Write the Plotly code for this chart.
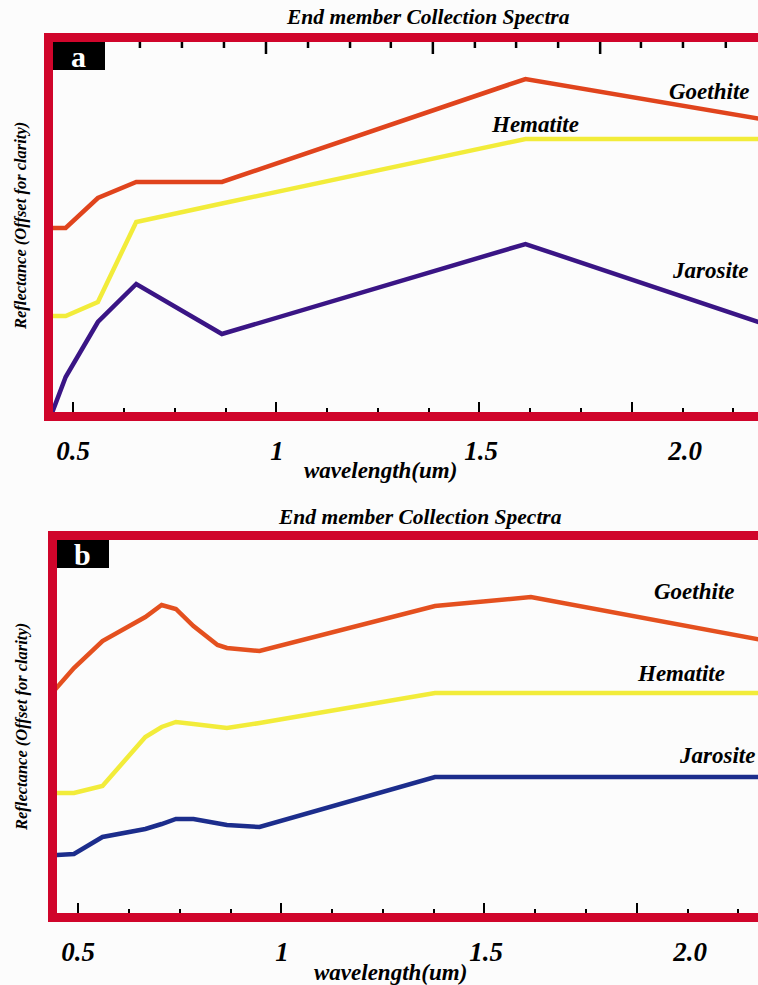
import plotly.graph_objects as go

# ---------------- data ----------------
# Panel a: Landsat-8 OLI band centres (um)
WL_A = [0.443, 0.482, 0.561, 0.655, 0.865, 1.609, 2.201]
GOETHITE_A = [1.84, 1.84, 2.14, 2.30, 2.30, 3.33, 2.92]
HEMATITE_A = [0.96, 0.96, 1.10, 1.90, 2.085, 2.73, 2.73]
JAROSITE_A = [-0.07, 0.35, 0.90, 1.28, 0.78, 1.68, 0.87]

# Panel b: Sentinel-2 MSI band centres (um)
WL_B = [0.443, 0.490, 0.560, 0.665, 0.705, 0.740, 0.783, 0.842, 0.865, 0.945, 1.375, 1.610, 2.190]
GOETHITE_B = [2.23, 2.45, 2.72, 2.96, 3.08, 3.04, 2.87, 2.68, 2.65, 2.62, 3.07, 3.16, 2.72]
HEMATITE_B = [1.20, 1.20, 1.27, 1.76, 1.86, 1.91, 1.89, 1.86, 1.85, 1.90, 2.20, 2.20, 2.20]
JAROSITE_B = [0.58, 0.59, 0.76, 0.84, 0.89, 0.94, 0.94, 0.89, 0.88, 0.86, 1.36, 1.36, 1.36]

TICK_LABEL_VALS = [0.5, 1.0, 1.5, 2.0]
TICK_LABEL_TEXT = ["0.5", "1", "1.5", "2.0"]
BOTTOM_MAJOR = [0.5, 0.998, 1.496, 1.869]
BOTTOM_MINOR = [0.625, 0.749, 0.874, 1.123, 1.247, 1.372, 1.621, 1.745, 1.994, 2.118]
TOP_MAJOR_A = [0.973, 1.382, 1.792]
TOP_MINOR_A = [0.664, 0.767, 0.870, 1.076, 1.179, 1.279, 1.485, 1.586, 1.689, 1.892, 1.995, 2.100]

TITLE = "End member Collection Spectra"
XTITLE = "wavelength(um)"
YTITLE = "Reflectance (Offset for clarity)"

# ---------------- styling ----------------
W, H = 758, 985
FRAME = "#D0052B"
BG = "#FCFCFC"
SERIF = "Liberation Serif"
C_GOE_A, C_HEM, C_JAR_A = "#E0441D", "#F2EC3A", "#3A1585"
C_GOE_B, C_JAR_B = "#E4501F", "#1C2D8C"
LW = 4.5

YR_A = [0, 3.70]
YR_B = [0, 3.73]


def px_x(p):
    return p / W


def px_y(p):
    return 1 - p / H


fig = go.Figure()

fig.add_trace(go.Scatter(x=WL_A, y=GOETHITE_A, mode="lines", line=dict(color=C_GOE_A, width=LW), xaxis="x", yaxis="y", name="Goethite"))
fig.add_trace(go.Scatter(x=WL_A, y=HEMATITE_A, mode="lines", line=dict(color=C_HEM, width=LW), xaxis="x", yaxis="y", name="Hematite"))
fig.add_trace(go.Scatter(x=WL_A, y=JAROSITE_A, mode="lines", line=dict(color=C_JAR_A, width=LW), xaxis="x", yaxis="y", name="Jarosite"))

fig.add_trace(go.Scatter(x=WL_B, y=GOETHITE_B, mode="lines", line=dict(color=C_GOE_B, width=LW), xaxis="x2", yaxis="y2", name="Goethite"))
fig.add_trace(go.Scatter(x=WL_B, y=HEMATITE_B, mode="lines", line=dict(color=C_HEM, width=LW), xaxis="x2", yaxis="y2", name="Hematite"))
fig.add_trace(go.Scatter(x=WL_B, y=JAROSITE_B, mode="lines", line=dict(color=C_JAR_B, width=LW), xaxis="x2", yaxis="y2", name="Jarosite"))

# empty helper traces so the overlay tick-label axes get drawn
for xa, ya in [("x3", "y"), ("x5", "y2")]:
    fig.add_trace(go.Scatter(x=[None], y=[None], mode="lines", xaxis=xa, yaxis=ya,
                             hoverinfo="skip", showlegend=False))

RANGE_A = [0.5 - 20 / 408, 0.5 + 685 / 408]
RANGE_B = [0.5 - 21 / 408, 0.5 + 680 / 408]
DOM_XA = [px_x(53), 1]
DOM_XB = [px_x(57), 1]
DOM_YA = [px_y(412), px_y(42)]
DOM_YB = [px_y(913), px_y(540)]

tick_font = dict(family=SERIF, size=27, color="black", weight="bold", style="italic")


def frame_x(rng, dom, anchor):
    return dict(
        range=rng, domain=dom, anchor=anchor, showgrid=False, zeroline=False,
        showline=True, linecolor=FRAME, linewidth=9, mirror=True,
        tickmode="array", tickvals=BOTTOM_MAJOR, ticks="inside", ticklen=10,
        tickwidth=2, tickcolor="black", showticklabels=False,
        minor=dict(tickmode="array", tickvals=BOTTOM_MINOR, ticks="inside",
                   ticklen=4, tickwidth=2, tickcolor="black"),
    )


def label_x(rng, dom, anchor, over):
    return dict(
        range=rng, domain=dom, anchor=anchor, overlaying=over, side="bottom",
        showgrid=False, zeroline=False, showline=False,
        tickmode="array", tickvals=TICK_LABEL_VALS, ticktext=TICK_LABEL_TEXT,
        ticks="outside", ticklen=15, tickcolor="rgba(0,0,0,0)",
        tickfont=tick_font,
    )


def frame_y(rng, dom, anchor):
    return dict(
        range=rng, domain=dom, anchor=anchor, showgrid=False, zeroline=False,
        showline=True, linecolor=FRAME, linewidth=9, mirror=False,
        showticklabels=False, ticks="",
    )


fig.update_layout(
    width=W, height=H,
    margin=dict(l=0, r=0, t=0, b=0),
    paper_bgcolor=BG, plot_bgcolor=BG,
    showlegend=False,
    xaxis=frame_x(RANGE_A, DOM_XA, "y"),
    yaxis=frame_y(YR_A, DOM_YA, "x"),
    xaxis2=frame_x(RANGE_B, DOM_XB, "y2"),
    yaxis2=frame_y(YR_B, DOM_YB, "x2"),
    xaxis3=label_x(RANGE_A, DOM_XA, "y", "x"),
    xaxis5=label_x(RANGE_B, DOM_XB, "y2", "x2"),
)

anns = []
title_font = dict(family=SERIF, size=21.5, color="black", weight="bold", style="italic")
xt_font = dict(family=SERIF, size=23, color="black", weight="bold", style="italic")
yt_font = dict(family=SERIF, size=16.5, color="black", weight="bold", style="italic")
lab_font = dict(family=SERIF, size=23, color="black", weight="bold", style="italic")

for cx, cy in [(428, 17), (420, 517)]:
    anns.append(dict(text=TITLE, x=px_x(cx), y=px_y(cy), xref="paper", yref="paper",
                     xanchor="center", yanchor="middle", showarrow=False, font=title_font))
for cx, cy in [(380, 470), (390, 972)]:
    anns.append(dict(text=XTITLE, x=px_x(cx), y=px_y(cy), xref="paper", yref="paper",
                     xanchor="center", yanchor="middle", showarrow=False, font=xt_font))
for cx, cy in [(21, 226), (21, 727)]:
    anns.append(dict(text=YTITLE, x=px_x(cx), y=px_y(cy), xref="paper", yref="paper",
                     xanchor="center", yanchor="middle", textangle=-90, showarrow=False, font=yt_font))

# mineral labels (panel a)
for name, x, y in [("Goethite", 2.061, 3.21), ("Hematite", 1.632, 2.88), ("Jarosite", 2.061, 1.42)]:
    anns.append(dict(text=name, x=x, y=y, xref="x", yref="y", xanchor="center", yanchor="middle",
                     showarrow=False, font=lab_font))
# mineral labels (panel b)
for name, x, y in [("Goethite", 2.012, 3.22), ("Hematite", 1.978, 2.40), ("Jarosite", 2.066, 1.58)]:
    anns.append(dict(text=name, x=x, y=y, xref="x2", yref="y2", xanchor="center", yanchor="middle",
                     showarrow=False, font=lab_font))

shapes = []
# top-edge tick marks of panel a, drawn on the data scales of panel a
px_per_unit = 370 / (YR_A[1] - YR_A[0])
for vals, length in [(TOP_MAJOR_A, 12), (TOP_MINOR_A, 6)]:
    for v in vals:
        shapes.append(dict(type="line", xref="x", yref="y", x0=v, x1=v,
                           y0=YR_A[1] + 0.05, y1=YR_A[1] - length / px_per_unit,
                           layer="above", line=dict(color="#000000", width=2.5)))

# panel letters
for letter, x0, y0 in [("a", 53, 42), ("b", 57, 540)]:
    shapes.append(dict(type="rect", xref="paper", yref="paper",
                       x0=px_x(x0), x1=px_x(x0 + 52), y0=px_y(y0 + 28), y1=px_y(y0),
                       fillcolor="black", line=dict(width=0)))
    anns.append(dict(text=letter, x=px_x(x0 + 25), y=px_y(y0 + 14), xref="paper", yref="paper",
                     xanchor="center", yanchor="middle", showarrow=False,
                     font=dict(family=SERIF, size=30, color="white", weight="bold")))

fig.update_layout(annotations=anns, shapes=shapes)

fig.write_html("out.html", config={"displayModeBar": False},
               post_script="document.body.style.margin='0';")
